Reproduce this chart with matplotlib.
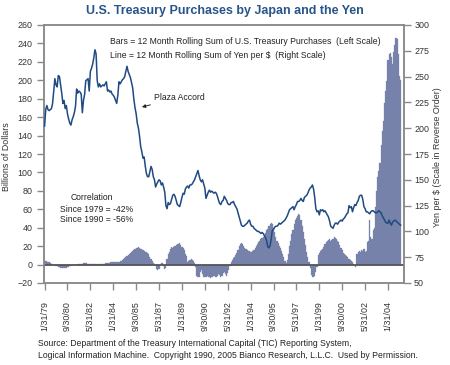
import matplotlib
matplotlib.use("Agg")
import matplotlib.pyplot as plt
import numpy as np

plt.rcParams['font.family'] = ['Liberation Sans', 'DejaVu Sans']

# ---- data: monthly, Jan 1979 .. Dec 2004 ----
purchases = [  # 12M rolling sum of US Treasury purchases by Japan, $bn (left scale)
    4, 4, 4, 3, 3, 2, 1, 1, 0, -1, -2, -2,            # 1979
    -3, -3, -4, -4, -4, -4, -4, -4, -3, -3, -2, -2,   # 1980
    -1, -1, -1, 0, 0, 0, 1, 1, 1, 1, 2, 2,            # 1981
    2, 2, 1, 1, 1, 1, 1, 1, 1, 1, 0, 1,               # 1982
    1, 1, 1, 1, 1, 2, 2, 2, 2, 2, 3, 3,               # 1983
    3, 3, 3, 3, 3, 3, 4, 4, 5, 6, 7, 8,               # 1984
    9, 10, 12, 13, 14, 15, 16, 17, 18, 18, 19, 18,    # 1985
    17, 17, 16, 15, 14, 14, 13, 11, 8, 6, 4, 2,       # 1986
    1, -1, -5, -6, -5, -1, 2, 2, -2, -5, -4, 6,       # 1987
    11, 14, 17, 19, 18, 19, 20, 21, 22, 22, 23, 21,   # 1988
    19, 18, 16, 12, 9, 3, 4, 5, 6, 5, 4, 2,           # 1989
    -3, -12, -14, -13, -8, -6, -10, -13, -14, -14, -12, -13,  # 1990
    -14, -15, -14, -13, -12, -13, -14, -12, -10, -11, -13, -12,  # 1991
    -9, -8, -10, -12, -9, -6, -2, 3, 5, 7, 8, 10,     # 1992
    13, 16, 20, 22, 23, 22, 20, 18, 17, 16, 15, 15,   # 1993
    14, 14, 15, 16, 18, 20, 22, 24, 26, 28, 29, 30,   # 1994
    32, 34, 37, 39, 42, 44, 45, 44, 40, 35, 30, 26,   # 1995
    23, 20, 18, 15, 12, 8, 4, 2, 5, 12, 20, 26,       # 1996
    33, 38, 44, 48, 51, 53, 55, 54, 48, 42, 35, 28,   # 1997
    21, 14, 8, 3, -4, -11, -14, -13, -12, -8, -3, 10, # 1998
    13, 15, 16, 17, 19, 22, 24, 26, 27, 28, 26, 27,   # 1999
    28, 30, 29, 28, 26, 24, 21, 18, 16, 13, 11, 10,   # 2000
    9, 8, 6, 5, 4, 3, 1, -1, -3, 12, 14, 15,          # 2001
    14, 16, 15, 17, 14, 15, 24, 26, 48, 30, 28, 38,   # 2002
    40, 62, 80, 95, 102, 110, 130, 145, 156, 175, 188, 199,  # 2003
    222, 229, 230, 225, 218, 231, 238, 246, 245, 229, 205, 200,  # 2004
]

yen = [  # yen per $ (right scale)
    202, 218, 222, 218, 217, 218, 219, 224, 236, 248, 242, 240,   # 1979
    251, 250, 242, 234, 224, 227, 219, 222, 214, 209, 205, 203,   # 1980
    208, 211, 215, 221, 238, 234, 236, 235, 233, 215, 227, 233,   # 1981
    246, 247, 248, 236, 255, 258, 262, 268, 276, 272, 246, 240,   # 1982
    243, 240, 241, 242, 241, 243, 245, 236, 237, 235, 236, 233,   # 1983
    232, 230, 227, 224, 232, 245, 243, 245, 247, 248, 250, 255,   # 1984
    260, 255, 252, 249, 244, 239, 228, 220, 214, 205, 200, 192,   # 1985
    182, 177, 171, 172, 163, 156, 153, 153, 158, 163, 160, 153,   # 1986
    150, 143, 146, 148, 150, 149, 145, 147, 143, 138, 125, 122,   # 1987
    128, 126, 127, 131, 135, 136, 134, 130, 126, 125, 124, 128,   # 1988
    133, 137, 136, 141, 143, 144, 142, 145, 145, 146, 148, 150,   # 1989
    153, 156, 159, 154, 150, 148, 150, 146, 142, 132, 135, 138,   # 1990
    140, 138, 139, 138, 137, 138, 137, 134, 130, 127, 126, 129,   # 1991
    130, 134, 132, 130, 127, 126, 126, 128, 128, 129, 126, 124,   # 1992
    122, 118, 114, 110, 106, 105, 105, 106, 107, 108, 110, 111,   # 1993
    107, 105, 105, 103, 102, 101, 100, 100, 99, 98, 99, 98,       # 1994
    96, 94, 91, 85, 84, 86, 93, 101, 102, 104, 105, 105,          # 1995
    106, 108, 107, 108, 109, 110, 111, 113, 115, 118, 121, 122,   # 1996
    123, 124, 121, 124, 126, 129, 129, 130, 132, 130, 129, 133,   # 1997
    134, 135, 137, 140, 142, 143, 145, 141, 133, 122, 119, 120,   # 1998
    116, 121, 120, 121, 119, 120, 118, 116, 114, 110, 105, 104,   # 1999
    103, 106, 108, 108, 107, 109, 110, 111, 110, 112, 113, 115,   # 2000
    117, 118, 125, 123, 124, 119, 123, 126, 125, 128, 130, 134,   # 2001
    135, 135, 131, 124, 122, 119, 119, 118, 117, 119, 120, 120,   # 2002
    119, 118, 118, 119, 120, 119, 118, 115, 113, 111, 109, 108,   # 2003
    108, 111, 108, 106, 109, 110, 111, 110, 109, 108, 107, 106,   # 2004
]

tick_labels = ['1/31/79', '9/30/80', '5/31/82', '1/31/84', '9/30/85', '5/31/87',
               '1/31/89', '9/30/90', '5/31/92', '1/31/94', '9/30/95', '5/31/97',
               '1/31/99', '9/30/00', '5/31/02', '1/31/04']
left_ticks = list(range(-20, 261, 20))
right_ticks = list(range(50, 301, 25))

# ---- styling ----
W, H = 450, 365
BAR_C = '#7682a9'
LINE_C = '#1f4b82'
TITLE_C = '#27558b'
GRID_C = '#8a8a8a'
TXT_C = '#222222'
FS = 6.2

def fx(x):
    return x / W

def fy(y):
    return 1 - y / H

fig = plt.figure(figsize=(W / 100, H / 100), dpi=100)
ax = fig.add_axes([fx(44), fy(283), (404 - 44) / W, (283 - 25) / H])

months = np.arange(len(purchases))
ax.bar(months, purchases, width=1.0, color=BAR_C, edgecolor=BAR_C, linewidth=0.2, zorder=2)
ax.axhline(0, color='#555555', lw=1.3, zorder=3)
ax.set_ylim(-20, 260)
ax.set_xlim(-0.5, 314)
ax.set_yticks(left_ticks)
ax.set_xticks(np.arange(0, 20 * len(tick_labels), 20))
ax.set_xticklabels(tick_labels, rotation=90)

ax2 = ax.twinx()
ax2.plot(np.arange(len(yen)), yen, color=LINE_C, lw=1.1, zorder=4)
ax2.set_ylim(50, 300)
ax2.set_yticks(right_ticks)

for a in (ax, ax2):
    for s in a.spines.values():
        s.set_color(GRID_C)
        s.set_linewidth(1.1)
    a.tick_params(colors=GRID_C, labelcolor='#333333', length=4.8, width=1.0,
                  labelsize=6.4)
ax.tick_params(axis='y', pad=3.5)
ax2.tick_params(axis='y', pad=2.5)
ax.tick_params(axis='x', pad=8)

fig.text(0.499, fy(11), 'U.S. Treasury Purchases by Japan and the Yen',
         ha='center', va='center', fontsize=9.0, fontweight='bold', color=TITLE_C)

fig.text(fx(110), fy(41), 'Bars = 12 Month Rolling Sum of U.S. Treasury Purchases  (Left Scale)',
         ha='left', va='center', fontsize=FS, color=TXT_C)
fig.text(fx(110), fy(56), r'Line = 12 Month Rolling Sum of Yen per \$  (Right Scale)',
         ha='left', va='center', fontsize=FS, color=TXT_C)

ax2.annotate('Plaza Accord', xy=(85, 220.5), xytext=(96, 230),
             ha='left', va='center', fontsize=FS, color=TXT_C,
             arrowprops=dict(arrowstyle='-|>', color=TXT_C, lw=0.7,
                             shrinkA=1, shrinkB=0, mutation_scale=5))

fig.text(fx(92), fy(198), 'Correlation', ha='center', va='center', fontsize=FS, color=TXT_C)
fig.text(fx(60), fy(209), 'Since 1979 = -42%', ha='left', va='center', fontsize=FS, color=TXT_C)
fig.text(fx(60), fy(220), 'Since 1990 = -56%', ha='left', va='center', fontsize=FS, color=TXT_C)

fig.text(fx(7), fy(157), 'Billions of Dollars', rotation=90, ha='center', va='center',
         fontsize=6.4, color='#333333')
fig.text(fx(437), fy(157), r'Yen per \$ (Scale in Reverse Order)', rotation=90,
         ha='center', va='center', fontsize=6.4, color='#333333')

fig.text(fx(38), fy(343), 'Source: Department of the Treasury International Capital (TIC) Reporting System,',
         ha='left', va='center', fontsize=FS, color=TXT_C)
fig.text(fx(38), fy(355), 'Logical Information Machine.  Copyright 1990, 2005 Bianco Research, L.L.C.  Used by Permission.',
         ha='left', va='center', fontsize=FS, color=TXT_C)

fig.savefig('out.png', dpi=100)
